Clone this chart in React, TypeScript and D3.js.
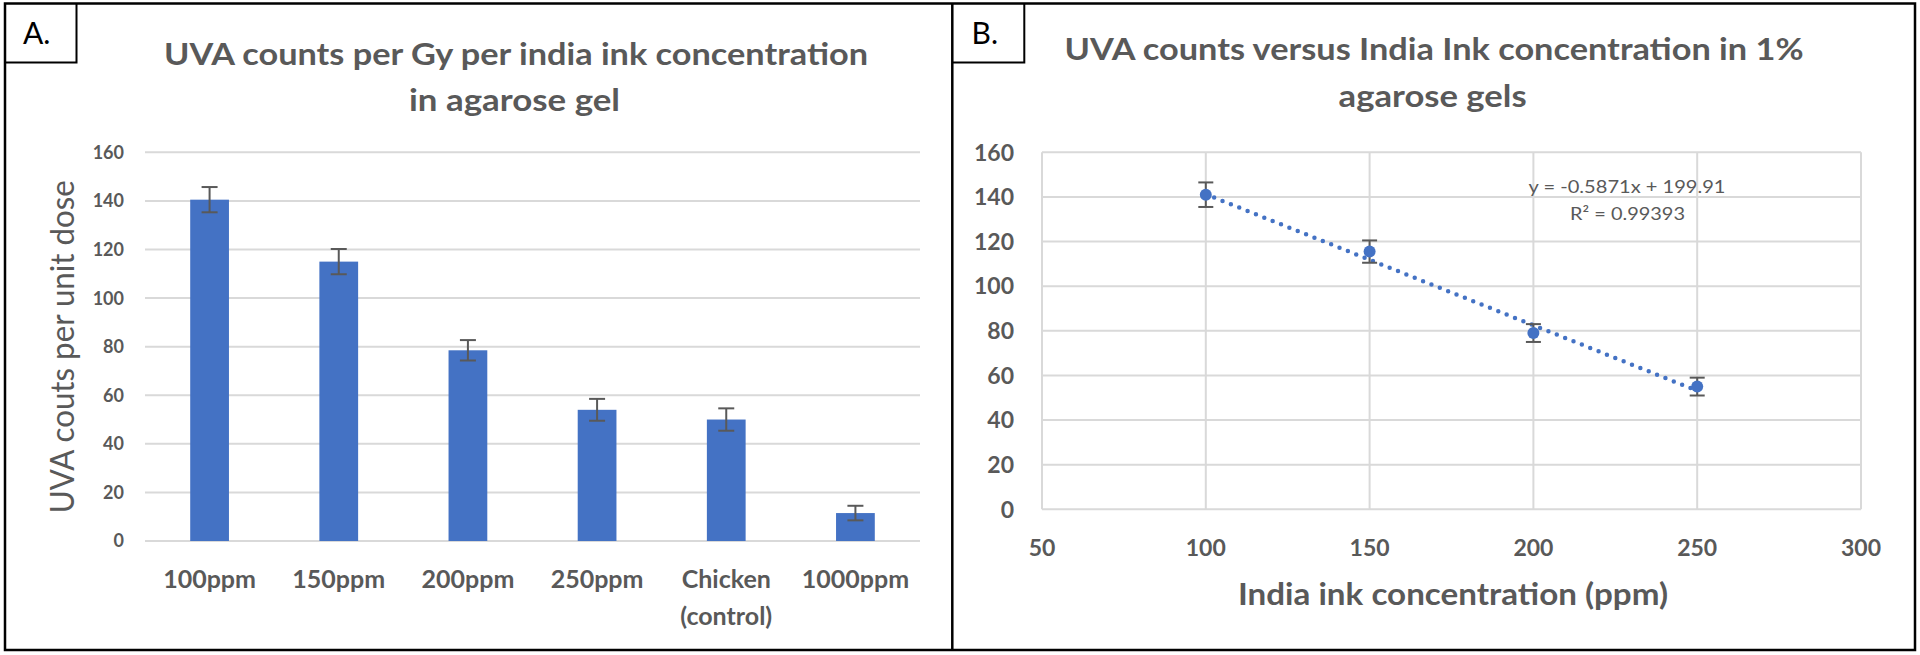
import React from "react";
import * as d3 from "d3";

// ---------- data ----------
const barCategories = ["100ppm", "150ppm", "200ppm", "250ppm", "Chicken|(control)", "1000ppm"];
const barValues = [140.5, 115, 78.5, 54, 50, 11.5];
const barErrors = [5.2, 5.2, 4.2, 4.5, 4.6, 3.0];
const yTicksA = [0, 20, 40, 60, 80, 100, 120, 140, 160];

const concentrations = [100, 150, 200, 250];
const pointValues = [141, 115.5, 79, 55];
const pointErrors = [5.5, 5, 4, 4];
const xTicksB = [50, 100, 150, 200, 250, 300];
const yTicksB = [0, 20, 40, 60, 80, 100, 120, 140, 160];
const trendSlope = -0.5871;
const trendIntercept = 199.91;

const titleA = ["UVA counts per Gy per india ink concentration", "in agarose gel"];
const titleB = ["UVA counts versus India Ink concentration in 1%", "agarose gels"];
const yTitleA = "UVA couts per unit dose";
const xTitleB = "India ink concentration (ppm)";
const eqText = "y = -0.5871x + 199.91";
const r2Text = "R² = 0.99393";

// ---------- styles ----------
const FONT = "Lato, 'Open Sans', 'DejaVu Sans', sans-serif";
const GRAY = "#595959";
const GRID = "#d9d9d9";
const BLUE = "#4472C4";

export default function App() {
  // Panel A scales
  const xA = d3
    .scaleBand<string>()
    .domain(barCategories)
    .range([145, 920])
    .paddingInner(0.7)
    .paddingOuter(0.35);
  const yA = d3.scaleLinear().domain([0, 160]).range([541, 152.3]);

  // Panel B scales
  const xB = d3.scaleLinear().domain([50, 300]).range([1042, 1861]);
  const yB = d3.scaleLinear().domain([0, 160]).range([509.3, 152.3]);

  const trendLine = d3
    .line<number>()
    .x((d) => xB(d))
    .y((d) => yB(trendSlope * d + trendIntercept));
  const trendX = [concentrations[0], concentrations[concentrations.length - 1]];

  return (
    <div style={{ position: "absolute", left: 0, top: 0, width: 1920, height: 655, background: "#fff" }}>
      <svg width={1920} height={655} style={{ display: "block" }} fontFamily={FONT}>
        <rect x={0} y={0} width={1920} height={655} fill="#fff" />

        {/* ===== Panel A ===== */}
        {/* gridlines */}
        {yTicksA.map((t) => (
          <line key={"ga" + t} x1={145} x2={920} y1={yA(t)} y2={yA(t)} stroke={GRID} strokeWidth={2} />
        ))}
        {/* tick labels */}
        {yTicksA.map((t) => (
          <text
            key={"ta" + t}
            x={124}
            y={yA(t)}
            dy="0.36em"
            textAnchor="end"
            fontSize={18}
            fontWeight="bold"
            fill={GRAY}
          >
            {t}
          </text>
        ))}
        {/* bars */}
        {barCategories.map((c, i) => (
          <rect
            key={"b" + i}
            x={xA(c)!}
            y={yA(barValues[i])}
            width={xA.bandwidth()}
            height={yA(0) - yA(barValues[i])}
            fill={BLUE}
          />
        ))}
        {/* error bars */}
        {barCategories.map((c, i) => {
          const cx = xA(c)! + xA.bandwidth() / 2;
          const top = yA(barValues[i] + barErrors[i]);
          const bot = yA(barValues[i] - barErrors[i]);
          return (
            <g key={"e" + i} stroke={GRAY} strokeWidth={2}>
              <line x1={cx} x2={cx} y1={top} y2={bot} />
              <line x1={cx - 8} x2={cx + 8} y1={top} y2={top} />
              <line x1={cx - 8} x2={cx + 8} y1={bot} y2={bot} />
            </g>
          );
        })}
        {/* category labels */}
        {barCategories.map((c, i) => {
          const cx = xA(c)! + xA.bandwidth() / 2;
          const lines = c.split("|");
          return (
            <text key={"xl" + i} textAnchor="middle" fontSize={25} fontWeight="bold" fill={GRAY}>
              {lines.map((l, j) => (
                <tspan key={j} x={cx} y={588 + j * 36.5}>
                  {l}
                </tspan>
              ))}
            </text>
          );
        })}
        {/* y axis title */}
        <text
          transform={`translate(74,${(yA(0) + yA(160)) / 2}) rotate(-90)`}
          textAnchor="middle"
          fontSize={32}
          fill={GRAY}
          textLength={333}
          lengthAdjust="spacingAndGlyphs"
        >
          {yTitleA}
        </text>
        {/* title */}
        <text x={516} y={65} textAnchor="middle" fontSize={30} fontWeight="bold" fill={GRAY} textLength={704} lengthAdjust="spacingAndGlyphs">
          {titleA[0]}
        </text>
        <text x={514.5} y={111} textAnchor="middle" fontSize={30} fontWeight="bold" fill={GRAY} textLength={211} lengthAdjust="spacingAndGlyphs">
          {titleA[1]}
        </text>

        {/* ===== Panel B ===== */}
        {yTicksB.map((t) => (
          <line key={"gby" + t} x1={xB(50)} x2={xB(300)} y1={yB(t)} y2={yB(t)} stroke={GRID} strokeWidth={2} />
        ))}
        {xTicksB.map((t) => (
          <line key={"gbx" + t} x1={xB(t)} x2={xB(t)} y1={yB(0)} y2={yB(160)} stroke={GRID} strokeWidth={2} />
        ))}
        {yTicksB.map((t) => (
          <text
            key={"tby" + t}
            x={1014}
            y={yB(t)}
            dy="0.36em"
            textAnchor="end"
            fontSize={23}
            fontWeight="bold"
            fill={GRAY}
          >
            {t}
          </text>
        ))}
        {xTicksB.map((t) => (
          <text key={"tbx" + t} x={xB(t)} y={556} textAnchor="middle" fontSize={23} fontWeight="bold" fill={GRAY}>
            {t}
          </text>
        ))}
        {/* trendline */}
        <path
          d={trendLine(trendX) || ""}
          fill="none"
          stroke={BLUE}
          strokeWidth={4.5}
          strokeLinecap="round"
          strokeDasharray="0 9"
        />
        {/* error bars */}
        {concentrations.map((c, i) => {
          const cx = xB(c);
          const top = yB(pointValues[i] + pointErrors[i]);
          const bot = yB(pointValues[i] - pointErrors[i]);
          return (
            <g key={"eb" + i} stroke={GRAY} strokeWidth={2}>
              <line x1={cx} x2={cx} y1={top} y2={bot} />
              <line x1={cx - 7.5} x2={cx + 7.5} y1={top} y2={top} />
              <line x1={cx - 7.5} x2={cx + 7.5} y1={bot} y2={bot} />
            </g>
          );
        })}
        {/* markers */}
        {concentrations.map((c, i) => (
          <circle key={"p" + i} cx={xB(c)} cy={yB(pointValues[i])} r={6} fill={BLUE} />
        ))}
        {/* equation */}
        <text x={1627} y={193} textAnchor="middle" fontSize={18} fill={GRAY} textLength={197} lengthAdjust="spacingAndGlyphs">
          {eqText}
        </text>
        <text x={1627.5} y={220} textAnchor="middle" fontSize={18} fill={GRAY} textLength={115} lengthAdjust="spacingAndGlyphs">
          {r2Text}
        </text>
        {/* x axis title */}
        <text x={1453} y={605} textAnchor="middle" fontSize={30} fontWeight="bold" fill={GRAY} textLength={430} lengthAdjust="spacingAndGlyphs">
          {xTitleB}
        </text>
        {/* title */}
        <text x={1434} y={60} textAnchor="middle" fontSize={30} fontWeight="bold" fill={GRAY} textLength={739} lengthAdjust="spacingAndGlyphs">
          {titleB[0]}
        </text>
        <text x={1432.6} y={107} textAnchor="middle" fontSize={30} fontWeight="bold" fill={GRAY} textLength={188} lengthAdjust="spacingAndGlyphs">
          {titleB[1]}
        </text>

        {/* ===== frames ===== */}
        <rect x={5} y={3.5} width={1910} height={646.5} fill="none" stroke="#000" strokeWidth={2.5} />
        <line x1={952.3} x2={952.3} y1={3.5} y2={650} stroke="#000" strokeWidth={2.5} />
        <polyline points="5,62.5 76.5,62.5 76.5,3.5" fill="none" stroke="#000" strokeWidth={2} />
        <polyline points="952.3,62.5 1024.3,62.5 1024.3,3.5" fill="none" stroke="#000" strokeWidth={2} />
        <text x={23} y={44} fontSize={30} fill="#000">
          A.
        </text>
        <text x={971.5} y={44} fontSize={30} fill="#000">
          B.
        </text>
      </svg>
    </div>
  );
}
